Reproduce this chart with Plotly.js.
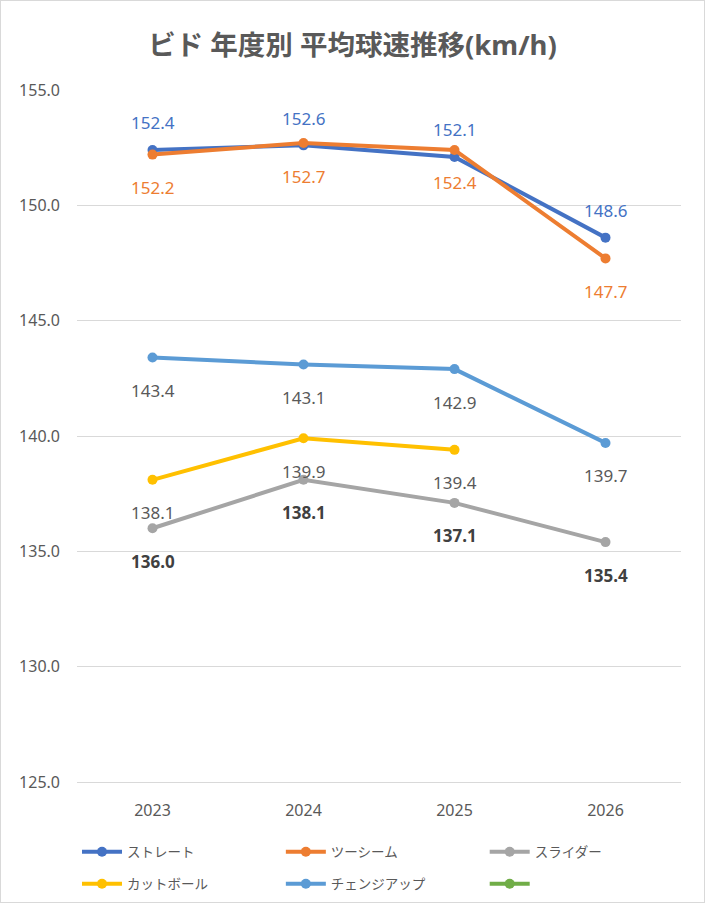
<!DOCTYPE html>
<html>
<head>
<meta charset="utf-8">
<script src="https://cdn.plot.ly/plotly-3.0.1.min.js"></script>
<style>
  body { margin: 0; background: #fff; }
  #chart { width: 705px; height: 903px; box-sizing: border-box; border: 1px solid #d9d9d9; }
</style>
</head>
<body>
<div id="chart"></div>
<script>
var years = ['2023', '2024', '2025', '2026'];

var straight  = [152.4, 152.6, 152.1, 148.6];
var twoSeam   = [152.2, 152.7, 152.4, 147.7];
var slider    = [136.0, 138.1, 137.1, 135.4];
var cutter    = [138.1, 139.9, 139.4, null];
var changeUp  = [143.4, 143.1, 142.9, 139.7];
var emptySeries = [null, null, null, null];

var yTicks = [125, 130, 135, 140, 145, 150, 155];

var FONT = 'Noto Sans, Noto Sans CJK JP, sans-serif';

// name, values, line colour, label colour, label shift (px), bold label
var series = [
  { name: 'ストレート',     y: straight,    color: '#4472C4', label: '#4472C4', shift: 27,  bold: false },
  { name: 'ツーシーム',     y: twoSeam,     color: '#ED7D31', label: '#ED7D31', shift: -33, bold: false },
  { name: 'スライダー',     y: slider,      color: '#A5A5A5', label: '#404040', shift: -33, bold: true },
  { name: 'カットボール',   y: cutter,      color: '#FFC000', label: '#595959', shift: -33, bold: false },
  { name: 'チェンジアップ', y: changeUp,    color: '#5B9BD5', label: '#595959', shift: -33, bold: false },
  { name: ' ',             y: emptySeries, color: '#70AD47', label: '#595959', shift: -33, bold: false }
];

// legend grid: 3 columns x 2 rows under the plot (one legend box per entry)
var legendColX = [0.0, 0.3375, 0.675];
var legendRowY = [1 - 851 / 901, 1 - 883 / 901];

var data = [];
var annotations = [];
var layout = {};

series.forEach(function(s, k) {
  var legId = k === 0 ? 'legend' : 'legend' + (k + 1);
  data.push({
    x: years,
    y: s.y,
    type: 'scatter',
    mode: 'lines+markers',
    name: s.name,
    legend: legId,
    line: { color: s.color, width: 4 },
    marker: { color: s.color, size: 10 },
    hoverinfo: 'skip'
  });
  layout[legId] = {
    orientation: 'h',
    xref: 'paper',
    x: legendColX[k % 3],
    xanchor: 'left',
    yref: 'container',
    y: legendRowY[Math.floor(k / 3)],
    yanchor: 'middle',
    itemwidth: 40,
    bgcolor: 'rgba(0,0,0,0)',
    font: { family: FONT, size: 13.5, color: '#595959' }
  };
  s.y.forEach(function(v, i) {
    if (v === null) return;
    var txt = v.toFixed(1);
    annotations.push({
      x: i,
      y: v,
      xref: 'x',
      yref: 'y',
      text: s.bold ? '<b>' + txt + '</b>' : txt,
      showarrow: false,
      yshift: s.shift,
      xanchor: 'center',
      yanchor: 'middle',
      font: { family: FONT, size: 17, color: s.label }
    });
  });
});

Object.assign(layout, {
  width: 703,
  height: 901,
  paper_bgcolor: '#ffffff',
  plot_bgcolor: '#ffffff',
  margin: { l: 76, r: 23, t: 89, b: 120 },
  title: {
    text: 'ビド 年度別 平均球速推移(km/h)',
    font: { family: FONT, size: 27.5, color: '#595959', weight: 'bold' },
    x: 0.5,
    xanchor: 'center',
    yref: 'container',
    y: 1 - 44 / 901,
    yanchor: 'middle'
  },
  xaxis: {
    type: 'category',
    range: [-0.5, 3.5],
    showgrid: false,
    showline: true,
    linecolor: '#d9d9d9',
    linewidth: 1,
    ticks: '',
    ticklabelstandoff: 14,
    tickfont: { family: FONT, size: 16, color: '#595959' },
    fixedrange: true
  },
  yaxis: {
    range: [125, 155],
    tickvals: yTicks,
    tickformat: '.1f',
    showgrid: true,
    gridcolor: '#d9d9d9',
    gridwidth: 1,
    zeroline: false,
    showline: false,
    ticks: '',
    ticklabelstandoff: 16,
    tickfont: { family: FONT, size: 16, color: '#595959' },
    fixedrange: true
  },
  showlegend: true,
  annotations: annotations
});

try {
  Plotly.newPlot('chart', data, layout, { displayModeBar: false, staticPlot: true });
} catch (e) {
  document.body.insertAdjacentHTML('beforeend', '<pre>' + e + '</pre>');
}
</script>
</body>
</html>
